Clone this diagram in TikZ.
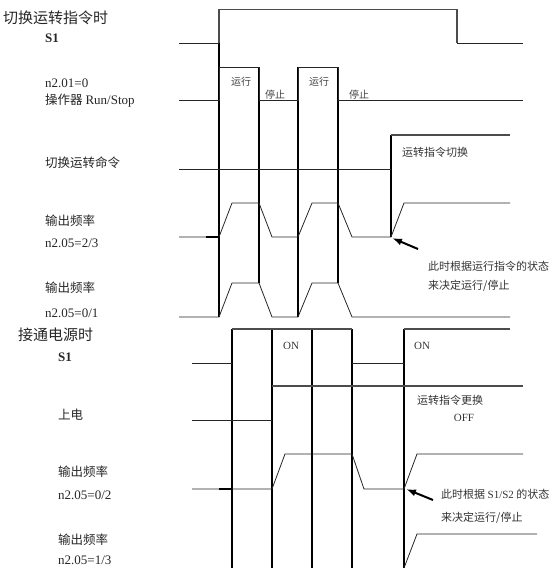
\documentclass[tikz,border=0pt]{standalone}
\usepackage{fontspec}
\setmainfont{Liberation Serif}
\newfontfamily\cjk{Noto Sans CJK SC}
\usetikzlibrary{arrows.meta}
\begin{document}
\begin{tikzpicture}[x=1pt,y=-1pt,
  wave/.style={line width=0.8pt,black!85},
  topw/.style={line width=1.1pt,black!70},
  vline/.style={line width=1.2pt,black},
  lab/.style={anchor=west,inner sep=0pt,font=\cjk\fontsize{12.5}{14}\selectfont,text=black!85},
  latl/.style={anchor=west,inner sep=0pt,font=\fontsize{13}{15}\selectfont,text=black!85},
  ttl/.style={anchor=west,inner sep=0pt,font=\cjk\fontsize{15}{17}\selectfont,text=black!85},
  small/.style={inner sep=0pt,font=\cjk\fontsize{10}{12}\selectfont,text=black!75},
  note/.style={anchor=west,inner sep=0pt,font=\cjk\fontsize{11}{13}\selectfont,text=black!80},
  lnote/.style={inner sep=0pt,font=\fontsize{11}{13}\selectfont,text=black!80},
  pointer/.style={line width=2pt,-{Latex[length=10pt,width=7pt]}}]
\useasboundingbox (0,0) rectangle (552,568);

% ---------------- top section labels
\node[ttl] (t1) at (3,18) {切换运转指令时};
\node[latl,font=\bfseries\fontsize{13}{15}\selectfont] (s1a) at (45,38) {S1};
\node[latl] (n201) at (45,83) {n2.01=0};
\node[lab] (op) at (45,100.5) {操作器\ {\rmfamily\fontsize{13}{15}\selectfont Run/Stop}};
\node[lab] (sw) at (45,163) {切换运转命令};
\node[lab] (of1) at (45,221) {输出频率};
\node[latl] (p23) at (45,243) {n2.05=2/3};
\node[lab] (of2) at (45,288) {输出频率};
\node[latl] (p01) at (45,313) {n2.05=0/1};

% ---------------- top section waves
\draw[vline] (219,43) -- (219,317);
\draw[vline] (259,67) -- (259,283);
\draw[vline] (298,67) -- (298,317);
\draw[vline] (338,67) -- (338,283);
\draw[vline] (391,135) -- (391,237);

\draw[wave] (179,43) -- (219,43);
\draw[topw] (219,43) -- (219,9.5) -- (457,9.5) -- (457,43);
\draw[wave] (457,43) -- (523,43);
\draw[wave] (179,100) -- (219,100) -- (219,67) -- (259,67) -- (259,100) -- (298,100)
  -- (298,67) -- (338,67) -- (338,100) -- (523,100);
\draw[wave] (179,169) -- (391,169);
\draw[topw] (391,135) -- (510,135);
\draw[wave] (179,237) -- (219,237) -- (232,203) -- (259,203) -- (272,237) -- (298,237)
  -- (312,203) -- (338,203) -- (352,237) -- (391,237) -- (404,203) -- (510,203);
\draw[line width=1.3pt] (206,237) -- (219,237);
\draw[wave] (179,317) -- (219,317) -- (232,283) -- (259,283) -- (272,317) -- (298,317)
  -- (312,283) -- (338,283) -- (352,317) -- (510,317);

\node[small] (r1) at (241,82) {运行};
\node[small] (h1) at (275,95) {停止};
\node[small] (r2) at (319,82) {运行};
\node[small] (h2) at (359,95) {停止};
\node[note] (sw2) at (402,152.5) {运转指令切换};
\node[note] (c1) at (428,266) {此时根据运行指令的状态};
\node[note] (c2) at (428,286) {来决定运行/停止};
\coordinate (a1s) at (418,249);
\coordinate (a1e) at (392,238);
\draw[pointer] (a1s) -- (a1e);

% ---------------- lower section labels
\node[ttl] (t2) at (18,335) {接通电源时};
\node[latl,font=\bfseries\fontsize{13}{15}\selectfont] (s1b) at (58,357) {S1};
\node[lab] (pw) at (58,415) {上电};
\node[lab] (of3) at (58,472) {输出频率};
\node[latl] (p02) at (58,495) {n2.05=0/2};
\node[lab] (of4) at (58,540) {输出频率};
\node[latl] (p13) at (58,560) {n2.05=1/3};

% ---------------- lower section waves
\foreach \xx in {232,272,312,352,404} \draw[vline] (\xx,329) -- (\xx,568);

\draw[wave] (192,363) -- (232,363);
\draw[topw] (232,329) -- (352,329);
\draw[wave] (352,363) -- (404,363);
\draw[topw] (404,329) -- (510,329);
\draw[wave] (192,420) -- (272,420);
\draw[topw] (272,386) -- (523,386);
\draw[wave] (192,489) -- (272,489) -- (285,454) -- (352,454) -- (364,489) -- (404,489)
  -- (417,454) -- (523,454);
\draw[line width=1.3pt] (219,489) -- (232,489);
\draw[wave] (404,568) -- (417,534) -- (537,534);

\node[lnote,anchor=west] (on1) at (283,346) {ON};
\node[lnote,anchor=west] (on2) at (414,346) {ON};
\node[note] (chg) at (417,400) {运转指令更换};
\node[lnote] (off) at (464,418) {OFF};
\node[note] (c3) at (441,494) {此时根据 {\rmfamily S1/S2} 的状态};
\node[note] (c4) at (441,518) {来决定运行/停止};
\coordinate (a2s) at (433,500);
\coordinate (a2e) at (406,489);
\draw[pointer] (a2s) -- (a2e);
\end{tikzpicture}
\end{document}
